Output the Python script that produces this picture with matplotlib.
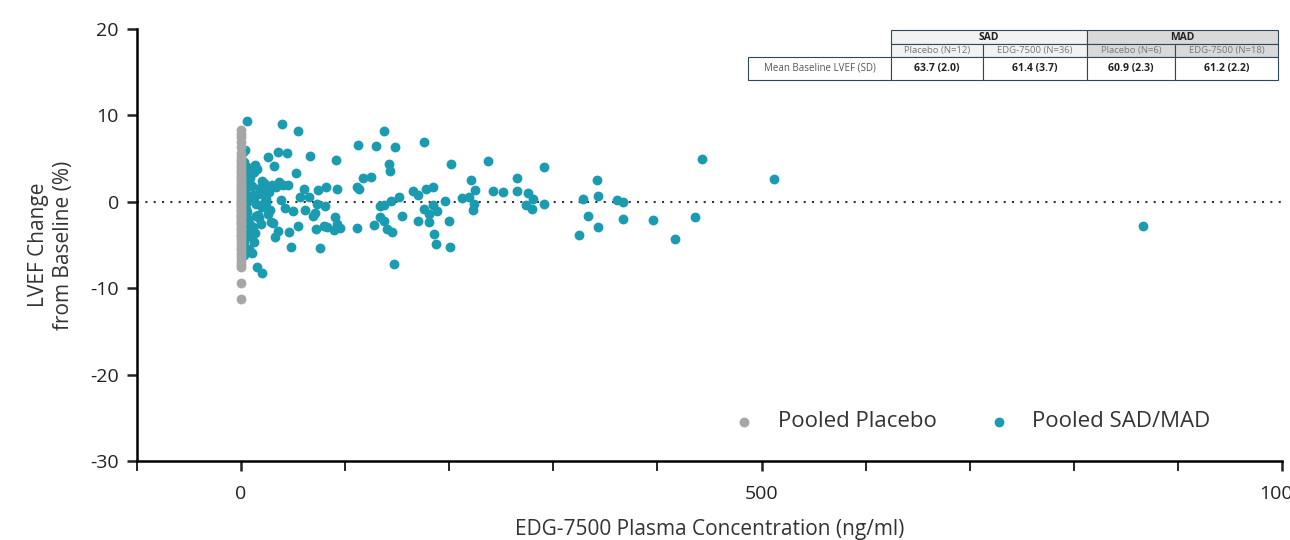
import numpy as np
import matplotlib.pyplot as plt
from matplotlib.patches import Rectangle

plt.rcParams['font.family'] = ['Open Sans', 'DejaVu Sans']

# pooled placebo: all at concentration 0
placebo_y = [8.3, 7.9, 7.5, 6.9, 6.3, 5.6, 5.2, 4.8, 4.5, 4.2, 3.9, 3.6, 3.3, 3.0, 2.8, 2.5,
             2.2, 2.0, 1.7, 1.5, 1.2, 1.0, 0.8, 0.5, 0.3, 0.1, -0.1, -0.3, -0.5, -0.7, -0.9,
             -1.1, -1.3, -1.5, -1.7, -1.9, -2.1, -2.3, -2.5, -2.7, -3.0, -3.2, -3.5, -3.8,
             -4.0, -4.3, -4.6, -5.0, -5.3, -5.6, -6.0, -6.4, -6.8, -7.2, -7.6, -9.4, -11.3]
placebo_x = [0] * len(placebo_y)

# pooled SAD/MAD (ng/ml, % change)
drug_x = [6, 39, 55, 137, 112, 130, 148, 176, 26, 35, 66, 91, 142, 143, 202, 237, 291, 32, 53,
          117, 125, 221, 265, 92, 82, 74, 111, 113, 165, 170, 178, 184, 225, 242, 252, 265, 276,
          280, 291, 274, 279, 152, 144, 133, 137, 196, 212, 219, 224, 176, 184, 188, 181, 155,
          133, 137, 170, 181, 200, 223, 128, 140, 145, 185, 187, 201, 147, 111, 90, 92, 89, 95,
          80, 83, 72, 76, 48, 61, 69, 71, 73, 81, 57, 60, 65, 46, 33, 55, 15, 20, 10, 12,
          328, 333, 342, 343, 343, 325, 361, 367, 367, 396, 417, 436, 443, 512, 866,
          2, 3, 4, 5, 3, 2, 6, 8, 4, 7, 9, 5, 3, 10, 12, 14, 11, 16, 18, 13, 20, 22, 17, 24, 25,
          28, 30, 19, 21, 27, 15, 9, 6, 8, 12, 4, 3, 5, 7, 11, 14, 2, 18, 23, 26, 29, 34, 38, 42,
          44, 36, 40, 31, 10, 5, 7, 3, 13, 16, 2, 4, 9, 6, 20, 24, 35, 45, 50]
drug_y = [9.3, 9.0, 8.2, 8.2, 6.6, 6.5, 6.4, 6.9, 5.2, 5.8, 5.3, 4.8, 4.4, 3.6, 4.4, 4.7, 4.0, 4.1, 3.3,
          2.8, 2.9, 2.5, 2.8, 1.5, 1.7, 1.4, 1.7, 1.5, 1.2, 0.8, 1.5, 1.7, 1.4, 1.3, 1.1, 1.2, 1.0,
          0.3, -0.3, -0.4, -0.8, 0.5, 0.1, -0.5, -0.4, 0.1, 0.4, 0.6, -0.2, -0.8, -0.4, -1.1, -1.4, -1.7,
          -1.8, -2.2, -2.2, -2.3, -2.2, -0.9, -2.7, -3.2, -3.5, -3.7, -4.9, -5.2, -7.2, -3.0, -1.8, -2.6, -3.3, -3.0,
          -2.8, -2.9, -3.2, -5.3, -5.2, -1.0, -1.7, -1.3, -0.3, -0.5, 0.5, 1.5, 0.6, -3.5, -4.1, -2.8, -7.5, -8.2, -5.9, -4.6,
          0.3, -1.6, 2.5, 0.7, -2.9, -3.9, 0.2, 0.0, -2.0, -2.1, -4.3, -1.8, 5.0, 2.6, -2.8,
          5.8, 4.6, 3.2, 2.1, 1.0, -0.4, -1.2, -2.4, -3.3, 0.6, 2.7, -0.8, -4.6, 1.8, 3.4, -1.6, -2.9, 0.9,
          1.6, -3.6, -0.6, 2.2, -1.9, 0.3, 1.4, -0.9, 2.0, -2.6, -0.2, 1.1, 3.8, -3.9, 4.0, -5.5, 0.4, 1.3,
          -1.0, 2.6, -2.0, 0.8, -0.3, 2.9, 1.5, 0.5, -1.4, -2.3, 1.7, 0.2, -0.7, 5.6, 2.3, 1.9, -2.4, 0.6,
          3.0, -4.0, -6.1, 4.3, -1.5, -3.1, 6.0, -2.7, 0.0, 2.4, -0.1, -3.4, 2.0, -1.1]

x_ticks = [0, 500, 1000]
y_ticks = [20, 10, 0, -10, -20, -30]

teal = '#1a9bb0'
grey = '#a6a6a6'

fig = plt.figure(figsize=(12.9, 5.4), dpi=100)
ax = fig.add_axes([137 / 1290, 1 - 461 / 540, (1282 - 137) / 1290, (461 - 29) / 540])

ax.scatter(drug_x, drug_y, s=50, color=teal, linewidths=0, zorder=3, label='Pooled SAD/MAD')
ax.scatter(placebo_x, placebo_y, s=50, color=grey, linewidths=0, zorder=4, label='Pooled Placebo')
ax.axhline(0, color='#333333', linestyle=(0, (1, 3)), linewidth=1.5, zorder=2)

ax.set_xlim(-100, 1000)
ax.set_ylim(-30, 20)
ax.set_xticks(x_ticks)
ax.set_xticklabels([str(v) for v in x_ticks])
ax.set_xticks(np.arange(-100, 1001, 100), minor=True)
ax.set_yticks(y_ticks)
ax.set_yticklabels([str(v) for v in y_ticks])
ax.spines['top'].set_visible(False)
ax.spines['right'].set_visible(False)
for s in ('left', 'bottom'):
    ax.spines[s].set_linewidth(1.8)
ax.tick_params(axis='both', which='major', length=7, width=1.8, labelsize=14, colors='#222222', pad=10)
ax.tick_params(axis='x', which='minor', length=7, width=1.2)
ax.tick_params(axis='y', pad=6)
ax.set_xlabel('EDG-7500 Plasma Concentration (ng/ml)', fontsize=15, color='#333333', labelpad=12)
ax.set_ylabel('LVEF Change\nfrom Baseline (%)', fontsize=15, color='#333333', labelpad=12)

h, l = ax.get_legend_handles_labels()
ax.legend(h[::-1], l[::-1], loc='lower right', bbox_to_anchor=(0.955, 0.02), ncol=2, frameon=False,
          fontsize=16, markerscale=1.0, handletextpad=0.5, columnspacing=1.8, labelcolor='#333333')

# summary table (pixel layout)
def px(x, y):
    return x / 1290, 1 - y / 540

cols = [748, 891, 983, 1087, 1175, 1278]
edge = '#2e4a5a'
def cell(x0, x1, y0, y1, fc='white', lw=0.8):
    fig.patches.append(Rectangle(px(x0, y1), (x1 - x0) / 1290, (y1 - y0) / 540,
                                 transform=fig.transFigure, facecolor=fc, edgecolor=edge, lw=lw))

cell(891, 1087, 30, 44, '#f2f2f2')
cell(1087, 1278, 30, 44, '#d9d9d9')
for i in range(1, 5):
    cell(cols[i], cols[i + 1], 44, 57, '#f2f2f2' if i < 3 else '#d9d9d9')
for i in range(5):
    cell(cols[i], cols[i + 1], 57, 80)

fig.text(*px(989, 37.5), 'SAD', ha='center', va='center', fontsize=7.5, weight='bold', color='#222222')
fig.text(*px(1182, 37.5), 'MAD', ha='center', va='center', fontsize=7.5, weight='bold', color='#222222')
subs = ['Placebo (N=12)', 'EDG-7500 (N=36)', 'Placebo (N=6)', 'EDG-7500 (N=18)']
vals = ['63.7 (2.0)', '61.4 (3.7)', '60.9 (2.3)', '61.2 (2.2)']
for i in range(4):
    xc = (cols[i + 1] + cols[i + 2]) / 2
    fig.text(*px(xc, 50.5), subs[i], ha='center', va='center', fontsize=6.8, color='#777777')
    fig.text(*px(xc, 68.5), vals[i], ha='center', va='center', fontsize=7.5, weight='bold', color='#222222')
fig.text(*px(819.5, 68.5), 'Mean Baseline LVEF (SD)', ha='center', va='center', fontsize=7, color='#555555')

fig.savefig('out.png', dpi=100)
